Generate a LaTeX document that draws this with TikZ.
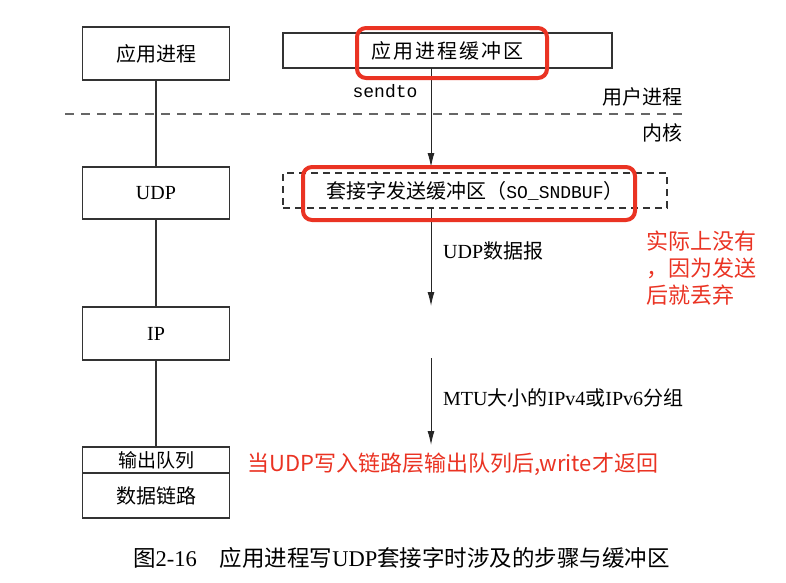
\documentclass[tikz,border=0pt]{standalone}
\usepackage{fontspec}
\setmainfont{Liberation Serif}
\setmonofont{Liberation Mono}
\newfontfamily\zh{Noto Sans CJK SC}
\usetikzlibrary{arrows.meta}
\definecolor{markred}{RGB}{234,51,35}
\newcommand{\fsz}[1]{\fontsize{#1}{#1}\selectfont}

\begin{document}
\begin{tikzpicture}[x=1pt,y=-1pt,
    layer/.style={draw=black!80,line width=1.2pt,inner sep=0pt,outer sep=0pt,font=\fsz{20}},
    link/.style={draw=black!80,line width=1.2pt},
    flow/.style={draw=black!85,line width=1pt,-{Latex[length=14pt,width=7pt]}},
    hilite/.style={draw=markred,line width=4pt,rounded corners=9pt},
    note/.style={text=markred,inner sep=0pt,font=\zh\fontsize{22}{27}\selectfont}]

    \useasboundingbox (0,0) rectangle (786,582);

    % protocol stack
    \node[layer,minimum width=147,minimum height=53] (app) at (156,53.5) {\zh 应用进程};
    \node[layer,minimum width=147,minimum height=52] (udp) at (156,193) {UDP};
    \node[layer,minimum width=147,minimum height=53] (ip) at (156,333.5) {IP};
    \node[layer,minimum width=147,minimum height=26,font=\zh\fsz{19}] (queue) at (156,460) {输出队列};
    \node[layer,minimum width=147,minimum height=45] (dlink) at (156,495.5) {\zh 数据链路};

    % stack lines
    \draw[link] (app) -- (udp);
    \draw[link] (udp) -- (ip);
    \draw[link] (ip) -- (queue);

    % user / kernel
    \draw[black!60,line width=1.2pt,dash pattern=on 9pt off 7pt] (65,114) -- (683,114);
    \node[anchor=east,inner sep=0pt,font=\zh\fsz{20}] (user) at (683,97) {用户进程};
    \node[anchor=east,inner sep=0pt,font=\zh\fsz{20}] (kernel) at (683,133) {内核};

    % buffers
    \node[layer,minimum width=329,minimum height=35,font=\zh\fsz{20}] (appbuf) at (447.5,50.5) {\addfontfeature{LetterSpace=10}应用进程缓冲区};
    \node[layer,dash pattern=on 7pt off 5pt,minimum width=384,minimum height=35] (sockbuf) at (475,190.5)
        {{\zh 套接字发送缓冲区（}{\ttfamily\fsz{18}SO\_SNDBUF}{\zh ）}};

    % data flow
    \coordinate (dgram) at (431,306);
    \coordinate (pkt) at (431,358);
    \draw[flow,shorten >=6pt] (appbuf.south -| dgram) -- (sockbuf.north -| dgram);
    \draw[flow] (sockbuf.south -| dgram) -- (dgram);
    \draw[flow,shorten >=2pt] (pkt) -- (queue.north -| pkt);
    \node[inner sep=0pt,font=\ttfamily\fsz{18}] (sendto) at (385,91) {sendto};
    \node[anchor=west,inner sep=0pt,font=\fsz{20}] (dgramlbl) at (443,251) {UDP{\zh 数据报}};
    \node[anchor=west,inner sep=0pt,font=\fsz{20}] (pktlbl) at (443,398) {MTU{\zh 大小的}IPv4{\zh 或}IPv6{\zh 分组}};

    % red marks
    \draw[hilite] (357,28) rectangle (547,78);
    \draw[hilite] (303,167) rectangle (635,220);
    \node[note,anchor=north west,align=left] (dropnote) at (646,231) {实际上没有\\，因为发送\\后就丢弃};
    \node[note,anchor=west] (retnote) at (247,464) {当UDP写入链路层输出队列后,write才返回};

    % caption
    \node[anchor=west,inner sep=0pt,font=\fsz{22.5}] (caption) at (133,558)
        {{\zh 图}2-16\hspace{23pt}{\zh 应用进程写}UDP{\zh 套接字时涉及的步骤与缓冲区}};
\end{tikzpicture}
\end{document}
